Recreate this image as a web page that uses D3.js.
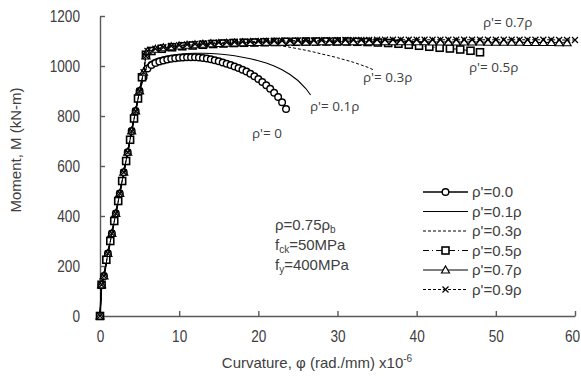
<!DOCTYPE html>
<html>
<head>
<meta charset="utf-8">
<script src="https://cdn.jsdelivr.net/npm/d3@7"></script>
<style>
  body { margin: 0; background: #fff; }
  .tick text { font-family: "Liberation Sans", Arial, sans-serif; font-size: 17px; fill: #404040; }
  .axisText { font-family: "Liberation Sans", Arial, sans-serif; font-size: 15px; fill: #404040; }
  .legText { font-family: "Liberation Sans", Arial, sans-serif; font-size: 15px; fill: #404040; }
  .curveText { font-family: "Open Sans", sans-serif; font-size: 13.5px; fill: #404040; }
</style>
</head>
<body>
<div class="chart"></div>
<script>
//Chart data (curvature x10^-6 rad/mm, moment kN-m)
//pre-yield branch shared by the curves
var phiRise = [0, 0.2, 0.5, 1, 1.5, 2, 2.5, 3, 3.5, 4, 4.5, 5];
var mRise = [0, 125, 160, 250, 330, 410, 490, 575, 655, 740, 820, 900];
//pre-yield points of the square-marker curve (sampled differently)
var phiRise05 = [0, 0.2, 0.8, 1.3, 1.8, 2.3, 2.8, 3.3, 3.8, 4.3, 4.8, 5.3];
var mRise05 = [0, 125, 225, 300, 380, 460, 540, 620, 705, 790, 870, 955];

//knee shared by the upper curves
var phiKnee = [5.5, 5.8];
var mKnee = [975, 1040];

//rho' = 0.0
var phi00 = [5.5, 6, 6.5, 7, 7.5, 8, 8.5, 9, 9.5, 10, 10.5, 11, 11.5, 12, 12.5, 13, 13.5, 14, 14.5, 15,
  15.5, 16, 16.5, 17, 17.5, 18, 18.5, 19, 19.5, 20, 20.5, 21, 21.5, 22, 22.5, 23, 23.5];
var m00 = [955, 990, 1004, 1012, 1018, 1022, 1026, 1029, 1031, 1033, 1034, 1035, 1035, 1035, 1034, 1032, 1030, 1027, 1023, 1019,
  1014, 1009, 1004, 998, 992, 985, 978, 969, 959, 948, 936, 923, 909, 893, 876, 855, 828];

//rho' = 0.1rho
var phi01 = [5.5, 6, 6.5, 7, 8, 9, 10, 11, 12, 13, 14, 15, 16, 17, 18, 19, 20, 21, 22, 23, 24, 25, 26, 26.6];
var m01 = [965, 1005, 1020, 1028, 1037, 1043, 1047, 1050, 1051, 1051, 1050, 1048, 1045, 1041, 1035, 1029, 1021, 1012, 1000, 985, 966, 942, 910, 884];

//rho' = 0.3rho
var phi03 = [6, 7, 8, 9, 10, 11, 12, 13, 14, 15, 16, 17, 18, 19, 20, 21, 22, 23, 24, 25, 26, 27, 28, 29, 30, 31, 32, 33, 34, 34.5];
var m03 = [1056, 1064, 1070, 1074, 1077, 1080, 1082, 1084, 1086, 1088, 1089, 1090, 1090, 1090, 1089, 1087, 1084, 1080, 1075, 1069,
  1063, 1056, 1048, 1041, 1033, 1024, 1015, 1004, 993, 985];

//rho' = 0.5rho
var phi05 = [5.8, 6.5, 7.8, 9.1, 10.4, 11.7, 13, 14.3, 15.6, 16.9, 18.2, 19.5, 20.8, 22.1, 23.4, 24.7, 26, 27.3, 28.6, 29.9, 31.2,
  32.5, 33.8, 35.1, 36.4, 37.7, 39, 40.3, 41.6, 42.9, 44.2, 45.5, 46.8, 48];
var m05 = [1045, 1060, 1069, 1075, 1079, 1082, 1085, 1088, 1090, 1092, 1093, 1094, 1095, 1096, 1097, 1097, 1098, 1098, 1098, 1098, 1098,
  1097, 1096, 1094, 1092, 1089, 1085, 1081, 1077, 1073, 1070, 1066, 1061, 1055];

//rho' = 0.7rho and 0.9rho
var phiPlateau = [6, 7, 8, 9, 10, 11, 12, 13, 14, 15, 16, 17, 18, 19, 20, 21, 22, 23, 24, 25, 26, 27, 28, 29, 30, 31, 32, 33,
  34, 35, 36, 37, 38, 39, 40, 41, 42, 43, 44, 45, 46, 47, 48, 49, 50, 51, 52, 53, 54, 55, 56, 57, 58, 59, 60];
var m07 = [1058, 1067, 1073, 1077, 1080, 1083, 1085, 1087, 1089, 1090, 1091, 1092, 1093, 1094, 1094, 1095, 1095, 1095, 1096, 1096,
  1096, 1096, 1097, 1097, 1097, 1097, 1097, 1097, 1097, 1097, 1097, 1097, 1097, 1097, 1097, 1097, 1096, 1096, 1096, 1096,
  1096, 1096, 1096, 1095, 1095, 1095, 1095, 1095, 1094, 1094, 1094, 1094, 1093, 1093];
var m09 = [1060, 1069, 1075, 1080, 1083, 1086, 1088, 1090, 1092, 1094, 1095, 1096, 1097, 1098, 1099, 1100, 1100, 1101, 1101, 1102,
  1102, 1102, 1103, 1103, 1103, 1104, 1104, 1104, 1104, 1105, 1105, 1105, 1105, 1105, 1105, 1105, 1105, 1105, 1105, 1105,
  1105, 1105, 1105, 1105, 1105, 1105, 1105, 1105, 1105, 1105, 1105, 1105, 1104, 1104, 1104];

var xTicks = [0, 10, 20, 30, 40, 50, 60];
var yTicks = [0, 200, 400, 600, 800, 1000, 1200];

var legendLabels = ["ρ'=0.0", "ρ'=0.1ρ", "ρ'=0.3ρ", "ρ'=0.5ρ", "ρ'=0.7ρ", "ρ'=0.9ρ"];

//zip helper
function pairs(px, py) {
  return px.map(function(p, i) { return [p, py[i]]; });
}

var series = [
  { pts: pairs(phiRise.concat(phi00), mRise.concat(m00)), marker: "circle", dash: null, width: 1.6 },
  { pts: pairs(phiRise.concat(phi01), mRise.concat(m01)), marker: null, dash: null, width: 1.1 },
  { pts: pairs(phiRise.concat(phiKnee, phi03), mRise.concat(mKnee, m03)), marker: null, dash: "3,2", width: 1 },
  { pts: pairs(phiRise05.concat(phi05), mRise05.concat(m05)), marker: "square", dash: "6,3,1,3", width: 1 },
  { pts: pairs(phiRise.concat(phiKnee, phiPlateau.slice(0, m07.length)), mRise.concat(mKnee, m07)), marker: "triangle", dash: null, width: 1 },
  { pts: pairs(phiRise.concat(phiKnee, phiPlateau), mRise.concat(mKnee, m09)), marker: "cross", dash: "3,2", width: 1 }
];

var svgWidth = 581;
var svgHeight = 376;

var svg = d3.select(".chart")
  .append("svg")
  .attr("width", svgWidth)
  .attr("height", svgHeight);

//scales
var xScale = d3.scaleLinear().domain([0, 60]).range([100, 575]);
var yScale = d3.scaleLinear().domain([0, 1200]).range([316, 16]);

//axes
var xAxisG = svg.append("g")
  .attr("transform", "translate(0, 316)")
  .call(d3.axisBottom(xScale).tickValues(xTicks).tickFormat(d3.format("d")).tickSizeInner(-5).tickSizeOuter(0).tickPadding(14));

svg.append("g")
  .attr("transform", "translate(100, 0)")
  .call(d3.axisLeft(yScale).tickValues(yTicks).tickFormat(d3.format("d")).tickSizeInner(-5).tickSizeOuter(0).tickPadding(20));

svg.selectAll(".domain, .tick line")
  .attr("stroke", "#595959")
  .attr("stroke-width", 1.4);

//squeeze tick labels to look like a narrow face
svg.selectAll(".tick text").each(function() {
  var w = this.getComputedTextLength();
  d3.select(this).attr("textLength", w * 0.8).attr("lengthAdjust", "spacingAndGlyphs");
});

//keep the last x label inside the frame
xAxisG.selectAll(".tick text").filter(d => d === 60).attr("dx", -3);

//markers
function drawMarker(g, type, cx, cy) {
  if (type === "circle") {
    g.append("circle").attr("cx", cx).attr("cy", cy).attr("r", 3.3)
      .attr("fill", "white").attr("stroke", "black").attr("stroke-width", 1.4);
  } else if (type === "square") {
    g.append("rect").attr("x", cx - 3.5).attr("y", cy - 3.5).attr("width", 7).attr("height", 7)
      .attr("fill", "white").attr("stroke", "black").attr("stroke-width", 1.6);
  } else if (type === "triangle") {
    g.append("path").attr("d", "M" + cx + "," + (cy - 4) + "L" + (cx + 4) + "," + (cy + 3) + "L" + (cx - 4) + "," + (cy + 3) + "Z")
      .attr("fill", "white").attr("stroke", "black").attr("stroke-width", 1.2);
  } else if (type === "cross") {
    g.append("path").attr("d", "M" + (cx - 3) + "," + (cy - 3) + "L" + (cx + 3) + "," + (cy + 3) + "M" + (cx - 3) + "," + (cy + 3) + "L" + (cx + 3) + "," + (cy - 3))
      .attr("fill", "none").attr("stroke", "black").attr("stroke-width", 1.2);
  }
}

var line = d3.line()
  .x(d => xScale(d[0]))
  .y(d => yScale(d[1]));

var plot = svg.append("g");

series.forEach(function(s) {
  var g = plot.append("g");
  g.append("path")
    .datum(s.pts)
    .attr("d", line)
    .attr("fill", "none")
    .attr("stroke", "black")
    .attr("stroke-width", s.width)
    .attr("stroke-dasharray", s.dash);
  if (s.marker) {
    s.pts.forEach(function(d) {
      drawMarker(g, s.marker, xScale(d[0]), yScale(d[1]));
    });
  }
});

//legend
var legend = svg.append("g");
series.forEach(function(s, i) {
  var ly = 192 + i * 19.5;
  legend.append("line")
    .attr("x1", 423).attr("x2", 468).attr("y1", ly).attr("y2", ly)
    .attr("stroke", "black")
    .attr("stroke-width", s.width)
    .attr("stroke-dasharray", s.dash);
  if (s.marker) drawMarker(legend, s.marker, 445.5, ly);
  legend.append("text")
    .attr("class", "legText")
    .attr("x", 472)
    .attr("y", ly + 5)
    .text(legendLabels[i]);
});

//curve labels
var curveLabels = [
  { t: "ρ'= 0", x: 252, y: 138 },
  { t: "ρ'= 0.1ρ", x: 310, y: 111 },
  { t: "ρ'= 0.3ρ", x: 363, y: 82 },
  { t: "ρ'= 0.5ρ", x: 469, y: 72 },
  { t: "ρ'= 0.7ρ", x: 483, y: 27 }
];
svg.selectAll("text.curve")
  .data(curveLabels)
  .enter()
  .append("text")
  .attr("class", "curveText")
  .attr("x", d => d.x)
  .attr("y", d => d.y)
  .text(d => d.t);

//section properties
var props = svg.append("g").attr("class", "legText");
var p1 = props.append("text").attr("x", 275).attr("y", 230);
p1.append("tspan").text("ρ=0.75ρ");
p1.append("tspan").attr("dy", 3).attr("font-size", "10px").text("b");
var p2 = props.append("text").attr("x", 275).attr("y", 250);
p2.append("tspan").text("f");
p2.append("tspan").attr("dy", 3).attr("font-size", "10px").text("ck");
p2.append("tspan").attr("dy", -3).text("=50MPa");
var p3 = props.append("text").attr("x", 275).attr("y", 270);
p3.append("tspan").text("f");
p3.append("tspan").attr("dy", 3).attr("font-size", "10px").text("y");
p3.append("tspan").attr("dy", -3).text("=400MPa");

//y axis label
svg.append("text")
  .attr("class", "axisText")
  .attr("transform", "translate(21, 150) rotate(-90)")
  .attr("text-anchor", "middle")
  .text("Moment, M (kN-m)");

//x axis label
var xl = svg.append("text")
  .attr("class", "axisText")
  .attr("x", 317)
  .attr("y", 368)
  .attr("text-anchor", "middle");
xl.append("tspan").text("Curvature, φ (rad./mm) x10");
xl.append("tspan").attr("dy", -6).attr("font-size", "10px").text("-6");
</script>
</body>
</html>
